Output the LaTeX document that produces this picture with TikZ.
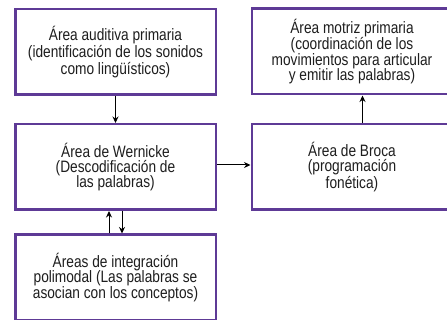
\documentclass[tikz,border=0pt]{standalone}
\usepackage{fontspec}
\setmainfont[FakeStretch=0.83]{Liberation Sans}
\usetikzlibrary{arrows.meta}
\definecolor{boxpurple}{RGB}{94,58,150}
\definecolor{txt}{RGB}{30,30,30}
\begin{document}
\begin{tikzpicture}[x=1pt,y=-1pt,
  areabox/.style={draw=boxpurple,line width=2.5pt,fill=white,minimum width=200.5pt,
    minimum height=85.5pt,align=center,inner sep=0pt,text=txt,
    font=\fontsize{16.5pt}{15.4pt}\selectfont},
  conn/.style={draw=black,line width=1pt,-{Stealth[length=6.5pt,width=6pt]}}]
\useasboundingbox (0,0) rectangle (447,320);
\clip (0,0) rectangle (447,320);
\node[areabox] (A) at (115.5,52) {Área auditiva primaria\\(identificación de los sonidos\\como lingüísticos)};
\node[areabox] (M) at (352,51.5) {Área motriz primaria\\(coordinación de los\\movimientos para articular\\y emitir las palabras)};
\node[areabox] (W) at (115.5,167) {Área de Wernicke\\(Descodificación de\\las palabras)};
\node[areabox] (B) at (352,167) {Área de Broca\\(programación\\fonética)};
\node[areabox] (I) at (115.5,277.5) {Áreas de integración\\polimodal (Las palabras se\\asocian con los conceptos)};
\draw[conn] (A.south) -- (W.north);
\draw[conn] ([yshift=2pt]W.east) -- ([yshift=2pt]B.west);
\draw[conn] ([xshift=10.5pt]B.north) -- ([xshift=10.5pt]M.south);
\draw[conn] ([xshift=-6.5pt]I.north) -- ([xshift=-6.5pt]W.south);
\draw[conn] ([xshift=6.5pt]W.south) -- ([xshift=6.5pt]I.north);
\end{tikzpicture}
\end{document}
